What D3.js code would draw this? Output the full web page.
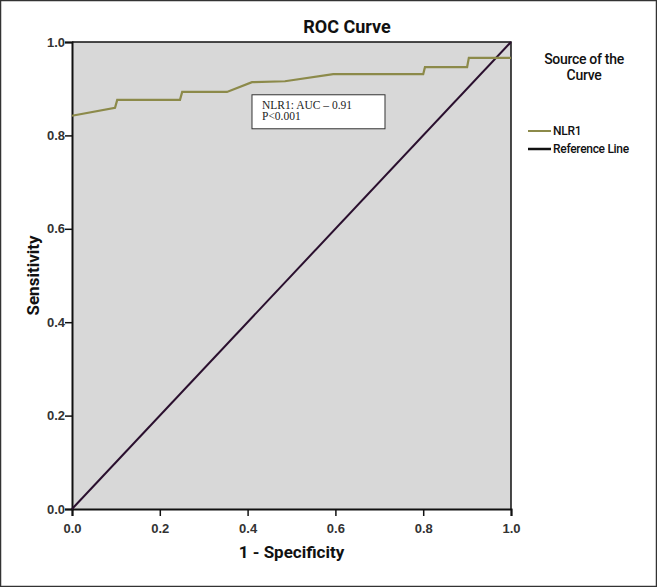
<!DOCTYPE html>
<html>
<head>
<meta charset="utf-8">
<script src="https://cdn.jsdelivr.net/npm/d3@7"></script>
<style>
  body { margin: 0; background: #fff; }
  svg { display: block; font-family: Roboto, "Liberation Sans", Arial, sans-serif; }
</style>
</head>
<body>
<div id="chart"></div>
<script>
// ROC curve points (1 - specificity, sensitivity)
const fpr = [0, 0.098, 0.103, 0.246, 0.251, 0.353, 0.41, 0.485, 0.595, 0.8, 0.804, 0.9, 0.904, 1.0];
const tpr = [0.842, 0.859, 0.876, 0.876, 0.893, 0.893, 0.914, 0.916, 0.931, 0.931, 0.946, 0.946, 0.966, 0.966];
const refLine = [0, 1];
const tickValues = [0, 0.2, 0.4, 0.6, 0.8, 1.0];
const legendLabels = ["NLR1", "Reference Line"];
const annotation = ["NLR1: AUC – 0.91", "P<0.001"];

const width = 657, height = 587;
const margin = { top: 42, right: 146, bottom: 78, left: 72 };

const svg = d3.select('#chart')
    .append('svg')
    .attr('width', width)
    .attr('height', height);

// outer frame
svg.append('rect')
    .attr('x', 0.5).attr('y', 0.5)
    .attr('width', width - 1).attr('height', height - 1)
    .style('fill', 'none')
    .style('stroke', '#333')
    .style('stroke-width', 1.5);

const x = d3.scaleLinear().domain([0, 1]).range([margin.left, width - margin.right]);
const y = d3.scaleLinear().domain([0, 1]).range([height - margin.bottom, margin.top]);

// plot background
svg.append('rect')
    .attr('x', x(0)).attr('y', y(1))
    .attr('width', x(1) - x(0)).attr('height', y(0) - y(1))
    .style('fill', '#d8d8d8');

// frame top/right
svg.append('path')
    .attr('d', `M${x(0)},${y(1)}H${x(1)}V${y(0)}`)
    .style('fill', 'none')
    .style('stroke', '#111')
    .style('stroke-width', 1.5);

// axes
const xAxis = svg.append('g')
    .attr('transform', `translate(0,${y(0)})`)
    .call(d3.axisBottom(x).tickValues(tickValues).tickFormat(d3.format('.1f')).tickSize(7));
const yAxis = svg.append('g')
    .attr('transform', `translate(${x(0)},0)`)
    .call(d3.axisLeft(y).tickValues(tickValues).tickFormat(d3.format('.1f')).tickSize(7));

[xAxis, yAxis].forEach(g => {
    g.select('.domain').style('stroke', '#111').style('stroke-width', 2);
    g.selectAll('.tick line').style('stroke', '#111').style('stroke-width', 1.5);
    g.selectAll('.tick text')
        .style('font-size', '13px')
        .style('font-weight', 'bold')
        .style('fill', '#333');
});
xAxis.selectAll('.tick text').attr('dy', '1.1em');
yAxis.selectAll('.tick text').attr('x', -7);

// reference diagonal
const line = d3.line().x(d => x(d[0])).y(d => y(d[1]));
svg.append('path')
    .datum(refLine.map(v => [v, v]))
    .attr('d', line)
    .style('fill', 'none')
    .style('stroke', '#2a0f2e')
    .style('stroke-width', 2);

// ROC curve
svg.append('path')
    .datum(fpr.map((v, i) => [v, tpr[i]]))
    .attr('d', line)
    .style('fill', 'none')
    .style('stroke', '#8c8a4a')
    .style('stroke-width', 2.2);

// annotation box
const box = svg.append('g').attr('transform', `translate(${x(0.410)},${y(0.887)})`);
box.append('rect')
    .attr('width', 133).attr('height', 34)
    .style('fill', '#fff')
    .style('stroke', '#333')
    .style('stroke-width', 1);
box.selectAll('text')
    .data(annotation)
    .join('text')
    .attr('x', 10)
    .attr('y', (d, i) => 14 + i * 11)
    .style('font-family', '"Liberation Serif", "DejaVu Serif", serif')
    .style('font-size', '11.5px')
    .style('fill', '#222')
    .text(d => d);

// title
svg.append('text')
    .attr('x', 347).attr('y', 33)
    .attr('text-anchor', 'middle')
    .style('font-size', '18px')
    .style('font-weight', 'bold')
    .style('fill', '#111')
    .text('ROC Curve');

// axis titles
svg.append('text')
    .attr('x', (x(0) + x(1)) / 2).attr('y', 558)
    .attr('text-anchor', 'middle')
    .style('font-size', '17px')
    .style('font-weight', 'bold')
    .style('fill', '#111')
    .text('1 - Specificity');

svg.append('text')
    .attr('transform', `translate(39,${(y(0) + y(1)) / 2}) rotate(-90)`)
    .attr('text-anchor', 'middle')
    .style('font-size', '17px')
    .style('font-weight', 'bold')
    .style('fill', '#111')
    .text('Sensitivity');

// legend
const legend = svg.append('g');
legend.selectAll('text.head')
    .data(['Source of the', 'Curve'])
    .join('text')
    .attr('class', 'head')
    .attr('x', 584)
    .attr('y', (d, i) => 64 + i * 16)
    .attr('text-anchor', 'middle')
    .style('font-size', '14px')
    .style('font-weight', 500)
    .style('letter-spacing', '-0.3px')
    .style('fill', '#111')
    .text(d => d);

const legendColors = ['#8c8a4a', '#111'];
const item = legend.selectAll('g.item')
    .data(legendLabels)
    .join('g')
    .attr('class', 'item')
    .attr('transform', (d, i) => `translate(528,${131 + i * 18})`);
item.append('line')
    .attr('x1', 0).attr('x2', 23)
    .style('stroke', (d, i) => legendColors[i])
    .style('stroke-width', (d, i) => i === 0 ? 2 : 2.5);
item.append('text')
    .attr('x', 25).attr('dy', '0.35em')
    .style('font-size', '12px')
    .style('font-weight', 500)
    .style('letter-spacing', '-0.3px')
    .style('fill', '#111')
    .text(d => d);
</script>
</body>
</html>
